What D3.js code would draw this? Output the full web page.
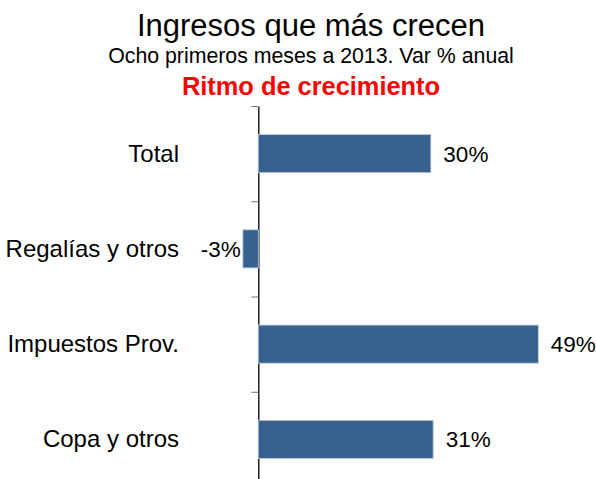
<!DOCTYPE html>
<html>

<head>
    <meta charset="utf-8">
    <script src="https://d3js.org/d3.v7.min.js"></script>
    <style>
        body { margin: 0; background: #fff; }
        text { font-family: "Liberation Sans", Arial, sans-serif; }
    </style>
</head>

<body>
    <div id="chart"></div>
    <script>
        const width = 596
        const height = 479

        // data
        const categories = ["Total", "Regalías y otros", "Impuestos Prov.", "Copa y otros"]
        const growth = [30.2, -2.7, 49.0, 30.6]
        const valueLabels = ["30%", "-3%", "49%", "31%"]

        const title = "Ingresos que más crecen"
        const subtitle = "Ocho primeros meses a 2013. Var % anual"
        const heading = "Ritmo de crecimiento"

        const svg = d3.select("#chart").append("svg")
            .attr("width", width)
            .attr("height", height)

        svg.append("text")
            .attr("x", 311).attr("y", 36)
            .attr("text-anchor", "middle")
            .style("font-size", "31px")
            .attr("fill", "#000")
            .text(title)

        svg.append("text")
            .attr("x", 311).attr("y", 63)
            .attr("text-anchor", "middle")
            .style("font-size", "21.3px")
            .attr("fill", "#000")
            .text(subtitle)

        svg.append("text")
            .attr("x", 311).attr("y", 95)
            .attr("text-anchor", "middle")
            .style("font-size", "25.4px")
            .style("font-weight", "bold")
            .attr("fill", "#ff0000")
            .text(heading)

        const xScale = d3.scaleLinear()
            .domain([0, 49])
            .range([258.3, 538.3])

        const yScale = d3.scaleBand()
            .domain(categories)
            .range([106, 487])
            .paddingInner(0.6)
            .paddingOuter(0.3)

        // ticks sit between the categories, not on them
        const edgeScale = d3.scaleLinear()
            .domain([0, categories.length])
            .range(yScale.range())

        const axis = svg.append("g")
            .attr("id", "y-axis")
            .attr("transform", "translate(" + xScale(0) + ",0)")
            .call(d3.axisLeft(edgeScale)
                .tickValues(d3.range(0, categories.length + 1))
                .tickSize(7)
                .tickSizeOuter(0)
                .tickFormat(""))

        axis.select(".domain").attr("stroke", "#000").attr("stroke-width", 1.3)
        axis.selectAll(".tick line").attr("stroke", "#777")

        svg.selectAll("rect.bar")
            .data(growth)
            .enter()
            .append("rect")
            .attr("class", "bar")
            .attr("x", d => xScale(Math.min(0, d)))
            .attr("y", (d, i) => yScale(categories[i]))
            .attr("width", d => Math.abs(xScale(d) - xScale(0)))
            .attr("height", yScale.bandwidth())
            .attr("fill", "#38618f")
            .attr("stroke", "#c3cfdf")
            .attr("stroke-width", 0.8)

        svg.selectAll("text.value")
            .data(growth)
            .enter()
            .append("text")
            .attr("class", "value")
            .attr("x", d => d < 0 ? xScale(d) - 2 : xScale(d) + 12.5)
            .attr("y", (d, i) => yScale(categories[i]) + yScale.bandwidth() / 2 + 8)
            .attr("text-anchor", d => d < 0 ? "end" : "start")
            .style("font-size", "22.5px")
            .attr("fill", "#000")
            .text((d, i) => valueLabels[i])

        svg.selectAll("text.category")
            .data(categories)
            .enter()
            .append("text")
            .attr("class", "category")
            .attr("x", 179)
            .attr("y", d => yScale(d) + yScale.bandwidth() / 2 + 8)
            .attr("text-anchor", "end")
            .style("font-size", "24px")
            .attr("fill", "#000")
            .text(d => d)
    </script>
</body>

</html>
